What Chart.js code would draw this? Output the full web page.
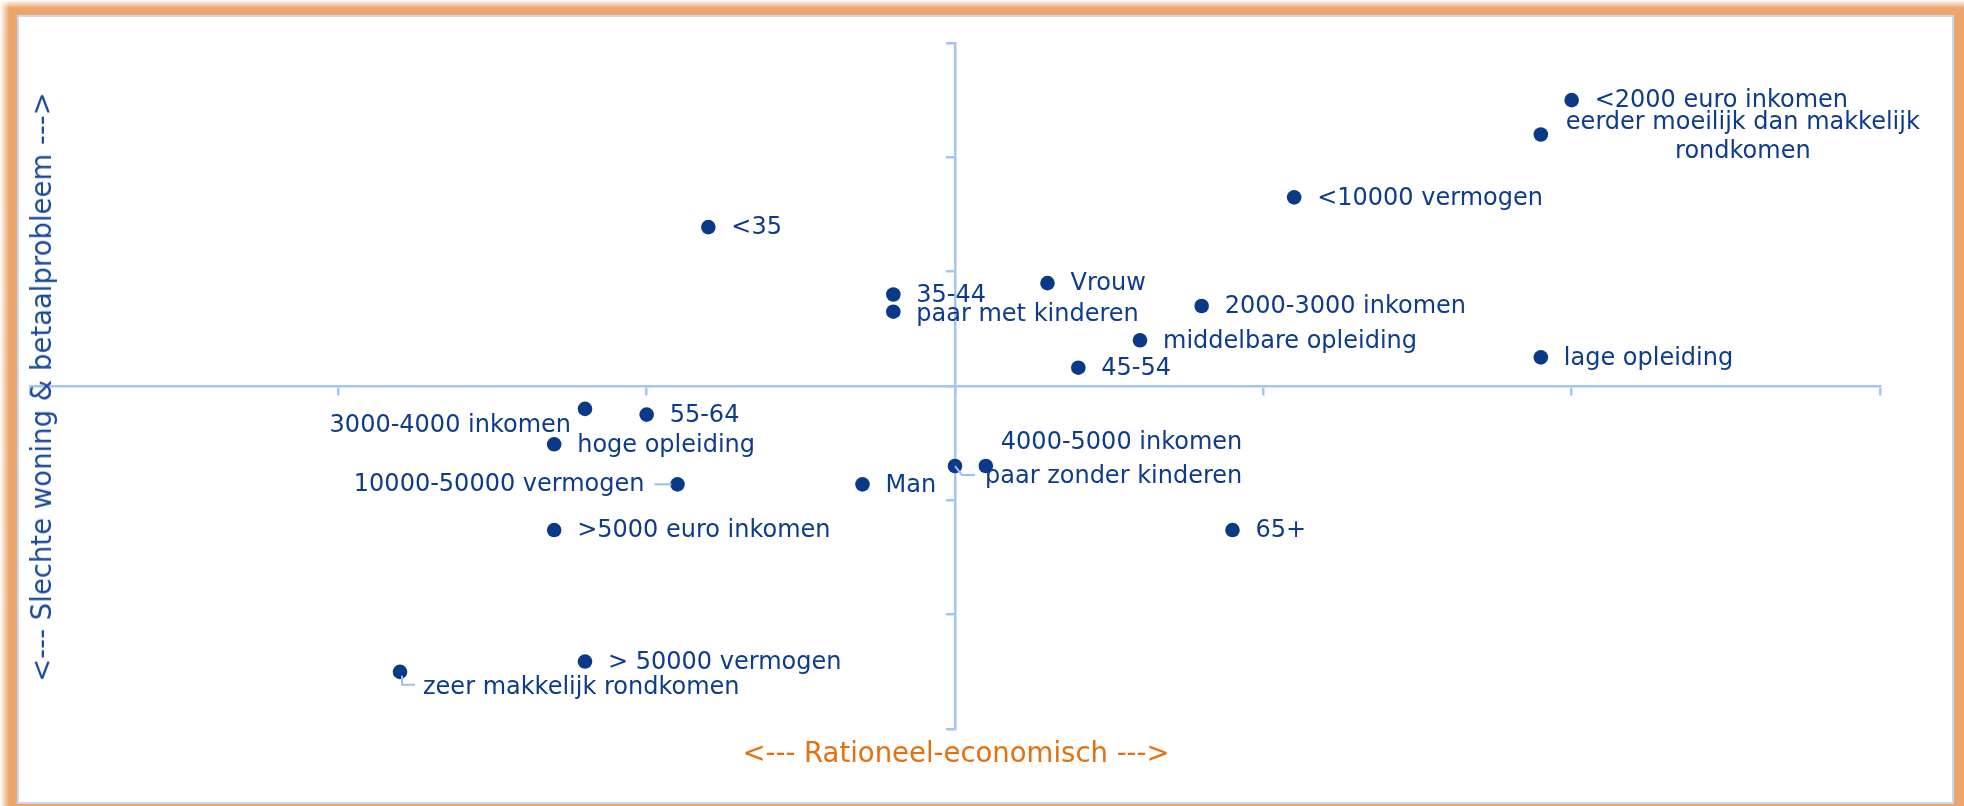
<!DOCTYPE html>
<html>
<head>
<meta charset="utf-8">
<script src="https://cdn.jsdelivr.net/npm/chart.js@4/dist/chart.umd.min.js"></script>
<style>
    html, body { margin: 0; padding: 0; background: #fff; }
    #frame { position: absolute; left: 0; top: 0; width: 1964px; height: 806px; background: #eca66c; overflow: hidden; }
    #fadeLeft { position: absolute; left: 0; top: 0; width: 9px; height: 806px; background: linear-gradient(to right, #fff, rgba(255,255,255,0)); }
    #fadeTop { position: absolute; left: 0; top: 0; width: 1964px; height: 8px; background: linear-gradient(to bottom, #fff, rgba(255,255,255,0)); }
    #panel { position: absolute; left: 17px; top: 15px; width: 1933px; height: 785px; background: #fff; border: 2px solid #c6daf7; }
    #wrap { position: absolute; left: 0; top: 0; width: 1964px; height: 806px; }
    .axisTitle { position: absolute; font-family: "DejaVu Sans", sans-serif; font-size: 27.5px; white-space: nowrap; }
    #titleY { left: 41px; top: 387px; color: #1b4a9a; transform: translate(-50%, -50%) rotate(-90deg); }
    #titleX { left: 956px; top: 752px; color: #e5700f; transform: translate(-50%, -50%); }
</style>
</head>
<body>
<div id="frame">
    <div id="fadeLeft"></div>
    <div id="fadeTop"></div>
    <div id="panel"></div>
</div>
<div id="wrap"><canvas id="myScatter" width="1964" height="806"></canvas></div>
<div class="axisTitle" id="titleY">&lt;--- Slechte woning &amp; betaalprobleem ---&gt;</div>
<div class="axisTitle" id="titleX">&lt;--- Rationeel-economisch ---&gt;</div>
<script>
    const categories = [
        '<2000 euro inkomen',
        'eerder moeilijk dan makkelijk rondkomen',
        '<10000 vermogen',
        '<35',
        '35-44',
        'paar met kinderen',
        'Vrouw',
        '2000-3000 inkomen',
        'middelbare opleiding',
        '45-54',
        'lage opleiding',
        '3000-4000 inkomen',
        '55-64',
        'hoge opleiding',
        '10000-50000 vermogen',
        'Man',
        'paar zonder kinderen',
        '4000-5000 inkomen',
        '>5000 euro inkomen',
        '65+',
        '> 50000 vermogen',
        'zeer makkelijk rondkomen'
    ];
    // rationeel-economisch
    const xValues = [2.0, 1.9, 1.1, -0.8, -0.2, -0.2, 0.3, 0.8, 0.6, 0.4, 1.9, -1.2, -1.0, -1.3, -0.9, -0.3, 0.0, 0.1, -1.3, 0.9, -1.2, -1.8];
    // slechte woning & betaalprobleem
    const yValues = [2.5, 2.2, 1.65, 1.39, 0.8, 0.65, 0.9, 0.7, 0.4, 0.16, 0.25, -0.2, -0.25, -0.51, -0.86, -0.86, -0.7, -0.7, -1.26, -1.26, -2.41, -2.5];
    const axisMin = -3;
    const axisMax = 3;

    // where each label sits next to its point (pixels)
    const labelSpots = {
        1: {dx: 202, lines: [['eerder moeilijk dan makkelijk', -12], ['rondkomen', 17]], align: 'center'},
        4: {dy: 1},
        5: {dy: 3},
        11: {dx: -14, dy: 17, align: 'right'},
        14: {dx: -33, dy: 0, align: 'right', leader: [[-23, 0], [-6, 0]]},
        16: {dx: 30, dy: 11, leader: [[0, 0], [7, 9], [20, 9]]},
        17: {dx: 15, dy: -23},
        21: {dx: 23, dy: 16, leader: [[2, 4], [2, 13], [15, 13]]}
    };

    const pointColor = '#0a3988';
    const textColor = '#0e3b8b';
    const axisColor = '#a6c4f5';

    const pointLabels = {
        id: 'pointLabels',
        afterDatasetsDraw(chart) {
            const ctx = chart.ctx;
            const meta = chart.getDatasetMeta(0);
            ctx.save();
            ctx.font = '24px "DejaVu Sans", sans-serif';
            ctx.fillStyle = textColor;
            ctx.textBaseline = 'middle';
            meta.data.forEach((point, i) => {
                const spot = labelSpots[i] || {};
                const dx = spot.dx !== undefined ? spot.dx : 23;
                const dy = spot.dy !== undefined ? spot.dy : 1;
                if (spot.leader) {
                    ctx.strokeStyle = '#9dbcf0';
                    ctx.lineWidth = 2;
                    ctx.beginPath();
                    spot.leader.forEach((p, k) => {
                        if (k === 0) {
                            ctx.moveTo(point.x + p[0], point.y + p[1]);
                        } else {
                            ctx.lineTo(point.x + p[0], point.y + p[1]);
                        }
                    });
                    ctx.stroke();
                }
                ctx.textAlign = spot.align || 'left';
                if (spot.lines) {
                    spot.lines.forEach(line => {
                        ctx.fillText(line[0], point.x + dx, point.y + line[1]);
                    });
                } else {
                    ctx.fillText(categories[i], point.x + dx, point.y + dy);
                }
            });
            ctx.restore();
        }
    };

    const myScatterCanvas = document.getElementById('myScatter');

    new Chart(myScatterCanvas, {
        type: 'scatter',
        data: {
            labels: categories,
            datasets: [{
                data: xValues.map((x, i) => ({x: x, y: yValues[i]})),
                backgroundColor: pointColor,
                borderWidth: 0,
                pointRadius: 7.3,
                pointHoverRadius: 7.3,
                clip: false
            }]
        },
        options: {
            responsive: false,
            animation: false,
            layout: {
                padding: {left: 30, right: 84, top: 43, bottom: 77}
            },
            plugins: {
                legend: {display: false},
                tooltip: {enabled: false}
            },
            scales: {
                x: {
                    type: 'linear',
                    min: axisMin,
                    max: axisMax,
                    position: {y: 0},
                    ticks: {display: false, stepSize: 1},
                    grid: {drawOnChartArea: false, drawTicks: true, tickLength: 8, color: axisColor, lineWidth: 2.5},
                    border: {color: axisColor, width: 2.5}
                },
                y: {
                    type: 'linear',
                    min: axisMin,
                    max: axisMax,
                    position: {x: 0},
                    ticks: {display: false, stepSize: 1},
                    grid: {drawOnChartArea: false, drawTicks: true, tickLength: 8, color: axisColor, lineWidth: 2.5},
                    border: {color: axisColor, width: 2.5}
                }
            }
        },
        plugins: [pointLabels]
    });
</script>
</body>
</html>
